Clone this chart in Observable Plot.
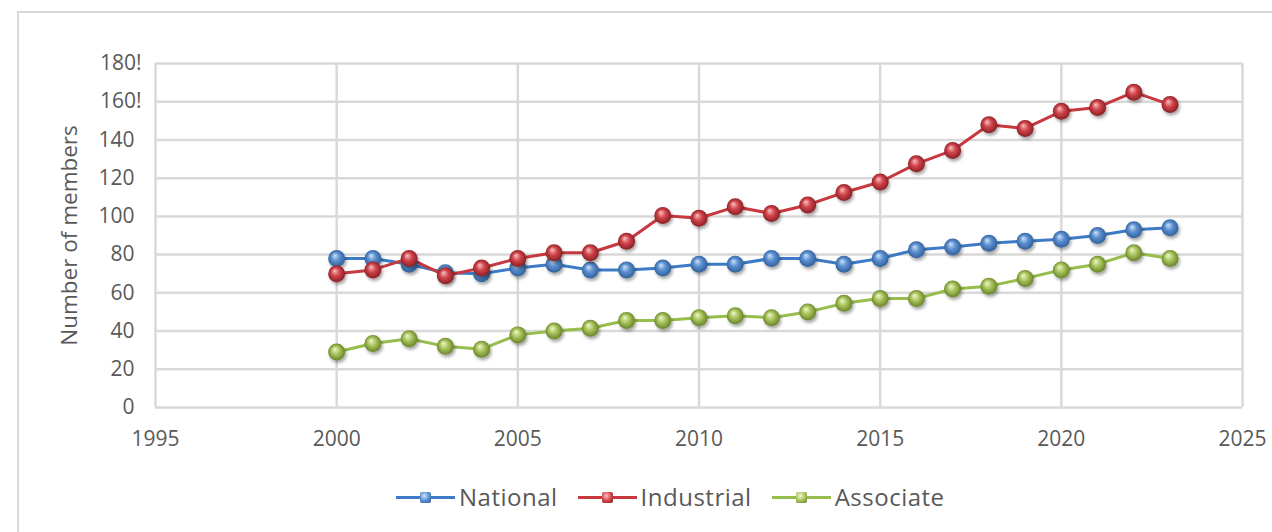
<!DOCTYPE html>
<html><head><meta charset="utf-8">
<script src="https://cdn.jsdelivr.net/npm/d3@7"></script>
<script src="https://cdn.jsdelivr.net/npm/@observablehq/plot@0.6"></script>
<style>
body{margin:0;background:#fff;font-family:"Open Sans",sans-serif;}
#wrap{position:relative;width:1272px;height:532px;overflow:hidden;background:#fff;}
#frame{position:absolute;left:17px;top:11px;width:1400px;height:700px;border-left:2px solid #d9d9d9;border-top:2px solid #d9d9d9;}
#chart{position:absolute;left:0;top:0;}
#legend{position:absolute;top:480px;left:396px;display:flex;align-items:center;font-size:24px;letter-spacing:0.5px;color:#595959;white-space:nowrap;}
.item{display:flex;align-items:center;margin-right:20px;}
.swatch{position:relative;width:59px;height:32px;margin-right:4px;}
.swatch .ln{position:absolute;left:0;right:0;top:15px;height:3px;}
.swatch .mk{position:absolute;left:24px;top:11px;width:11px;height:11px;border-radius:2px;}
</style>
</head><body>
<div id="wrap"><div id="frame"></div><div id="chart"></div><div id="legend"></div></div>
<script>
const years = [2000,2001,2002,2003,2004,2005,2006,2007,2008,2009,2010,2011,2012,2013,2014,2015,2016,2017,2018,2019,2020,2021,2022,2023];
const national   = [78,78,75,70.5,70,73,75,72,72,73,75,75,78,78,75,78,82.5,84,86,87,88,90,93,94];
const industrial = [70,72,78,69,73,78,81,81,87,100.5,99,105,101.5,106,112.5,118,127.5,134.5,148,146,155,157,165,158.5];
const associate  = [29,33.5,36,32,30.5,38,40,41.5,45.5,45.5,47,48,47,50,54.5,57,57,62,63.5,67.5,72,75,81,78];
const seriesNames = ["National","Industrial","Associate"];
const seriesColors = ["#3d7bc6","#c8383f","#97bd4c"];
const yTicks = [0,20,40,60,80,100,120,140,160,180];
const yTickLabels = ["0","20","40","60","80","100","120","140","160!","180!"];
const xTicks = [1995,2000,2005,2010,2015,2020,2025];
const xTickLabels = ["1995","2000","2005","2010","2015","2020","2025"];
const yLabel = "Number of members";

const seriesValues = [national, industrial, associate];
const data = [];
seriesNames.forEach((s,i)=>years.forEach((y,j)=>data.push({series:s, year:y, value:seriesValues[i][j]})));
const gradIds = ["gBlue","gRed","gGreen"];
const fillOf = {};
seriesNames.forEach((s,i)=>fillOf[s]=`url(#${gradIds[i]})`);
const yLabelOf = d => yTickLabels[yTicks.indexOf(d)];
const plainTicks = yTicks.filter(d => !yLabelOf(d).endsWith("!"));
const bangTicks = yTicks.filter(d => yLabelOf(d).endsWith("!"));

const font = "'Open Sans', sans-serif";
const chart = Plot.plot({
  width: 1272, height: 470,
  marginLeft: 155, marginRight: 30, marginTop: 63, marginBottom: 63,
  style: {fontFamily: font, fontSize: "21px", color: "#595959", background: "transparent", overflow: "visible"},
  x: {domain: [1995, 2025], ticks: xTicks},
  y: {domain: [0, 180], ticks: yTicks},
  color: {domain: seriesNames, range: seriesColors},
  marks: [
    Plot.gridY(yTicks, {stroke: "#d9d9d9", strokeOpacity: 1, strokeWidth: 2.5}),
    Plot.gridX(xTicks, {stroke: "#d9d9d9", strokeOpacity: 1, strokeWidth: 2.5}),
    Plot.axisY(plainTicks, {tickSize: 0, tickPadding: 21, tickFormat: yLabelOf, fontSize: 21, fill: "#595959",
      label: yLabel, labelAnchor: "center", labelArrow: "none", labelOffset: 94}),
    Plot.axisY(bangTicks, {tickSize: 0, tickPadding: 14, tickFormat: yLabelOf, fontSize: 21, fill: "#595959", label: null}),
    Plot.axisX(xTicks, {tickSize: 0, tickPadding: 24, fontSize: 21, fill: "#595959", label: null,
      tickFormat: d => xTickLabels[xTicks.indexOf(d)]}),
    Plot.line(data, {x: "year", y: "value", z: "series", stroke: "series", strokeWidth: 3}),
    Plot.dot(data, {x: "year", y: "value", r: 8.5, fill: d => fillOf[d.series], stroke: "none"}),
  ]
});
const svg = d3.select(chart);
const defs = svg.insert("defs", ":first-child");
const stops = [
  ["gBlue", "#cfe2f7", "#5a8fd0", "#2c5a92"],
  ["gRed", "#f6c4c4", "#d2434a", "#7e1b20"],
  ["gGreen", "#eef7cf", "#a9c45c", "#5f7a22"]
];
stops.forEach(([id,a,b,c])=>{
  const g = defs.append("radialGradient").attr("id", id).attr("cx","50%").attr("cy","50%").attr("r","55%").attr("fx","38%").attr("fy","32%");
  g.append("stop").attr("offset","0%").attr("stop-color",a);
  g.append("stop").attr("offset","45%").attr("stop-color",b);
  g.append("stop").attr("offset","100%").attr("stop-color",c);
});
const f = defs.append("filter").attr("id","shadow").attr("x","-50%").attr("y","-50%").attr("width","200%").attr("height","200%");
f.append("feDropShadow").attr("dx",1.5).attr("dy",2.5).attr("stdDeviation",1.8).attr("flood-color","#000").attr("flood-opacity",0.35);
svg.selectAll("g[aria-label='dot'] circle").attr("filter","url(#shadow)");
svg.selectAll("g[aria-label='y-axis label'] text").attr("font-size", 22.5);
document.getElementById("chart").appendChild(chart);

const legend = document.getElementById("legend");
seriesNames.forEach((s,i)=>{
  const it = document.createElement("div"); it.className="item";
  it.innerHTML = `<div class="swatch"><div class="ln" style="background:${seriesColors[i]}"></div><div class="mk" style="background:radial-gradient(circle at 40% 35%, ${stops[i][1]}, ${stops[i][2]} 50%, ${stops[i][3]})"></div></div><span>${s}</span>`;
  legend.appendChild(it);
});
</script>
</body></html>
